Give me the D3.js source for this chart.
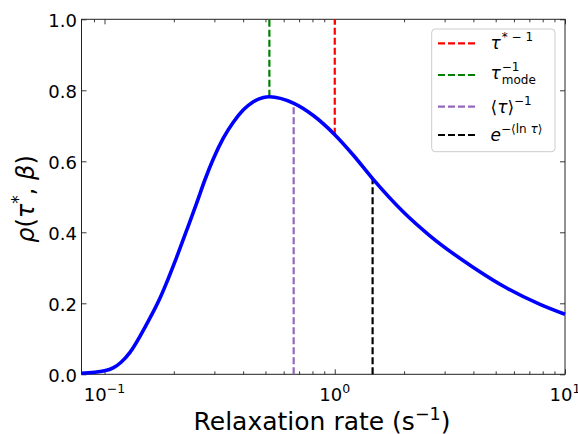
<!DOCTYPE html>
<html>
<head>
<meta charset="utf-8">
<script src="https://cdn.jsdelivr.net/npm/d3@7"></script>
<style>
  body { margin: 0; background: #fff; }
  text { font-family: "DejaVu Sans", sans-serif; }
</style>
</head>
<body>
<div id="chart"></div>
<script>
// curve: relaxation rate (s^-1) vs rho
const rates = [0.0794, 0.1, 0.109, 0.118, 0.129, 0.152, 0.174, 0.183, 0.206, 0.2275, 0.2515, 0.273, 0.297, 0.328, 0.3625, 0.401, 0.443, 0.490, 0.52, 0.661, 0.807, 1.0, 1.205, 1.46, 1.986, 2.59, 4.0, 5.58, 7.79, 10];
const rho = [0.003, 0.010, 0.018, 0.034, 0.062, 0.140, 0.214, 0.247, 0.331, 0.406, 0.483, 0.548, 0.607, 0.665, 0.710, 0.745, 0.768, 0.780, 0.782, 0.764, 0.729, 0.675, 0.617, 0.551, 0.457, 0.390, 0.301, 0.243, 0.197, 0.169];

// vertical markers: rate, bottom and top of the dashed segment
const markerRates = [1.0, 0.52, 0.663, 1.46];
const markerFrom = [0.675, 0.782, 0, 0];
const markerTo = [1, 1, 0.764, 0.551];
const markerColors = ['#ff0000', '#008000', '#9467bd', '#000000'];

// ticks
const xMajor = [0.1, 1, 10];
const xMajorExp = ['\u22121', '0', '1'];
const xMinor = [0.09, 0.2, 0.3, 0.4, 0.5, 0.6, 0.7, 0.8, 0.9, 2, 3, 4, 5, 6, 7, 8, 9];
const yTicks = [0, 0.2, 0.4, 0.6, 0.8, 1.0];

const width = 578, height = 434;
const plotLeft = 81.5, plotRight = 565, plotTop = 19.3, plotBottom = 374.3;

const svg = d3.select('#chart')
  .append('svg')
  .attr('width', width)
  .attr('height', height);

const x = d3.scaleLog().domain([Math.pow(10, -1.1), 10]).range([plotLeft, plotRight]);
const y = d3.scaleLinear().domain([0, 1]).range([plotBottom, plotTop]);

// axes, ticks pointing inward on all four sides
const axisG = svg.append('g');

axisG.append('g')
  .attr('transform', `translate(0,${plotBottom})`)
  .call(d3.axisBottom(x).tickValues(xMinor).tickSize(-3).tickFormat(''));
axisG.append('g')
  .attr('transform', `translate(0,${plotBottom})`)
  .call(d3.axisBottom(x).tickValues(xMajor).tickSize(-5).tickFormat(''));
axisG.append('g')
  .attr('transform', `translate(0,${plotTop})`)
  .call(d3.axisTop(x).tickValues(xMinor).tickSize(-3).tickFormat(''));
axisG.append('g')
  .attr('transform', `translate(0,${plotTop})`)
  .call(d3.axisTop(x).tickValues(xMajor).tickSize(-5).tickFormat(''));
axisG.append('g')
  .attr('transform', `translate(${plotLeft},0)`)
  .call(d3.axisLeft(y).tickValues(yTicks).tickSize(-5).tickPadding(4.5).tickFormat(d3.format('.1f')));
axisG.append('g')
  .attr('transform', `translate(${plotRight},0)`)
  .call(d3.axisRight(y).tickValues(yTicks).tickSize(-5).tickFormat(''));

axisG.selectAll('.domain').remove();
axisG.selectAll('.tick line').attr('stroke', '#222').attr('stroke-width', 0.9);
axisG.selectAll('text').attr('font-size', 18).attr('fill', '#000')
  .attr('font-family', '"DejaVu Sans", sans-serif');
axisG.selectAll('.tick text').attr('dy', '0.38em');

// frame
svg.append('rect')
  .attr('x', plotLeft).attr('y', plotTop)
  .attr('width', plotRight - plotLeft).attr('height', plotBottom - plotTop)
  .attr('fill', 'none').attr('stroke', '#222').attr('stroke-width', 1);

// x major labels 10^n
xMajor.forEach((v, i) => {
  const t = svg.append('text')
    .attr('x', x(v)).attr('y', 401)
    .attr('text-anchor', 'middle')
    .attr('font-size', 18);
  t.append('tspan').text('10');
  t.append('tspan').attr('font-size', 12.5).attr('dy', -8).text(xMajorExp[i]);
});

// dashed markers
markerRates.forEach((r, i) => {
  svg.append('line')
    .attr('x1', x(r)).attr('x2', x(r))
    .attr('y1', y(markerFrom[i])).attr('y2', y(markerTo[i]))
    .attr('stroke', markerColors[i])
    .attr('stroke-width', 2.2)
    .attr('stroke-dasharray', '7,3');
});

// the curve
const line = d3.line()
  .x((d, i) => x(rates[i]))
  .y(d => y(d))
  .curve(d3.curveMonotoneX);

svg.append('path')
  .datum(rho)
  .attr('d', line)
  .attr('fill', 'none')
  .attr('stroke', '#0000ff')
  .attr('stroke-width', 3.6)
  .attr('stroke-linejoin', 'round');

// axis labels
svg.append('text')
  .attr('x', 322).attr('y', 429.5)
  .attr('text-anchor', 'middle')
  .attr('font-size', 25)
  .call(t => {
    t.append('tspan').text('Relaxation rate (s');
    t.append('tspan').attr('font-size', 17.5).attr('dy', -10).text('\u22121');
    t.append('tspan').attr('dy', 10).text(')');
  });

svg.append('text')
  .attr('transform', 'translate(34,199) rotate(-90)')
  .attr('text-anchor', 'middle')
  .attr('font-size', 24)
  .call(t => {
    t.append('tspan').attr('font-style', 'italic').text('\u03c1');
    t.append('tspan').text('(');
    t.append('tspan').attr('font-style', 'italic').text('\u03c4');
    t.append('tspan').attr('font-size', 17).attr('dy', -10).text('*');
    t.append('tspan').attr('dy', 10).text(', ');
    t.append('tspan').attr('font-style', 'italic').text('\u03b2');
    t.append('tspan').text(')');
  });

// legend
const legend = svg.append('g');
legend.append('rect')
  .attr('x', 431.7).attr('y', 29)
  .attr('width', 123.3).attr('height', 122.7)
  .attr('rx', 3.5)
  .attr('fill', '#fff').attr('fill-opacity', 0.8)
  .attr('stroke', '#cccccc').attr('stroke-width', 1);

const rowY = [43.3, 75, 106.7, 135];
rowY.forEach((ry, i) => {
  legend.append('line')
    .attr('x1', 438).attr('x2', 475)
    .attr('y1', ry).attr('y2', ry)
    .attr('stroke', markerColors[i])
    .attr('stroke-width', 2.2)
    .attr('stroke-dasharray', '7,3');
});

const lx = 490.5, fs = 17, sfs = 12;
// tau^{*-1}
legend.append('text').attr('x', lx).attr('y', rowY[0] + 6).attr('font-size', fs)
  .call(t => {
    t.append('tspan').attr('font-style', 'italic').text('\u03c4');
    t.append('tspan').attr('font-size', sfs).attr('dy', -8).attr('dx', 1).text('* \u2212 1');
  });
// tau_mode^{-1}
{
  const t = legend.append('text').attr('x', lx).attr('y', rowY[1] + 4).attr('font-size', fs);
  t.append('tspan').attr('font-style', 'italic').text('\u03c4');
  const w = t.node().getComputedTextLength();
  t.append('tspan').attr('font-size', sfs).attr('x', lx + w + 1).attr('dy', -8).text('\u22121');
  t.append('tspan').attr('font-size', sfs).attr('x', lx + w + 1).attr('dy', 13).text('mode');
}
// <tau>^{-1}
legend.append('text').attr('x', lx).attr('y', rowY[2] + 6).attr('font-size', fs)
  .call(t => {
    t.append('tspan').text('\u27e8');
    t.append('tspan').attr('font-style', 'italic').text('\u03c4');
    t.append('tspan').text('\u27e9');
    t.append('tspan').attr('font-size', sfs).attr('dy', -8).text('\u22121');
  });
// e^{-<ln tau>}
legend.append('text').attr('x', lx).attr('y', rowY[3] + 6).attr('font-size', fs)
  .call(t => {
    t.append('tspan').attr('font-style', 'italic').text('e');
    t.append('tspan').attr('font-size', sfs).attr('dy', -8).text('\u2212\u27e8ln ');
    t.append('tspan').attr('font-size', sfs).attr('font-style', 'italic').text('\u03c4');
    t.append('tspan').attr('font-size', sfs).text('\u27e9');
  });
</script>
</body>
</html>
